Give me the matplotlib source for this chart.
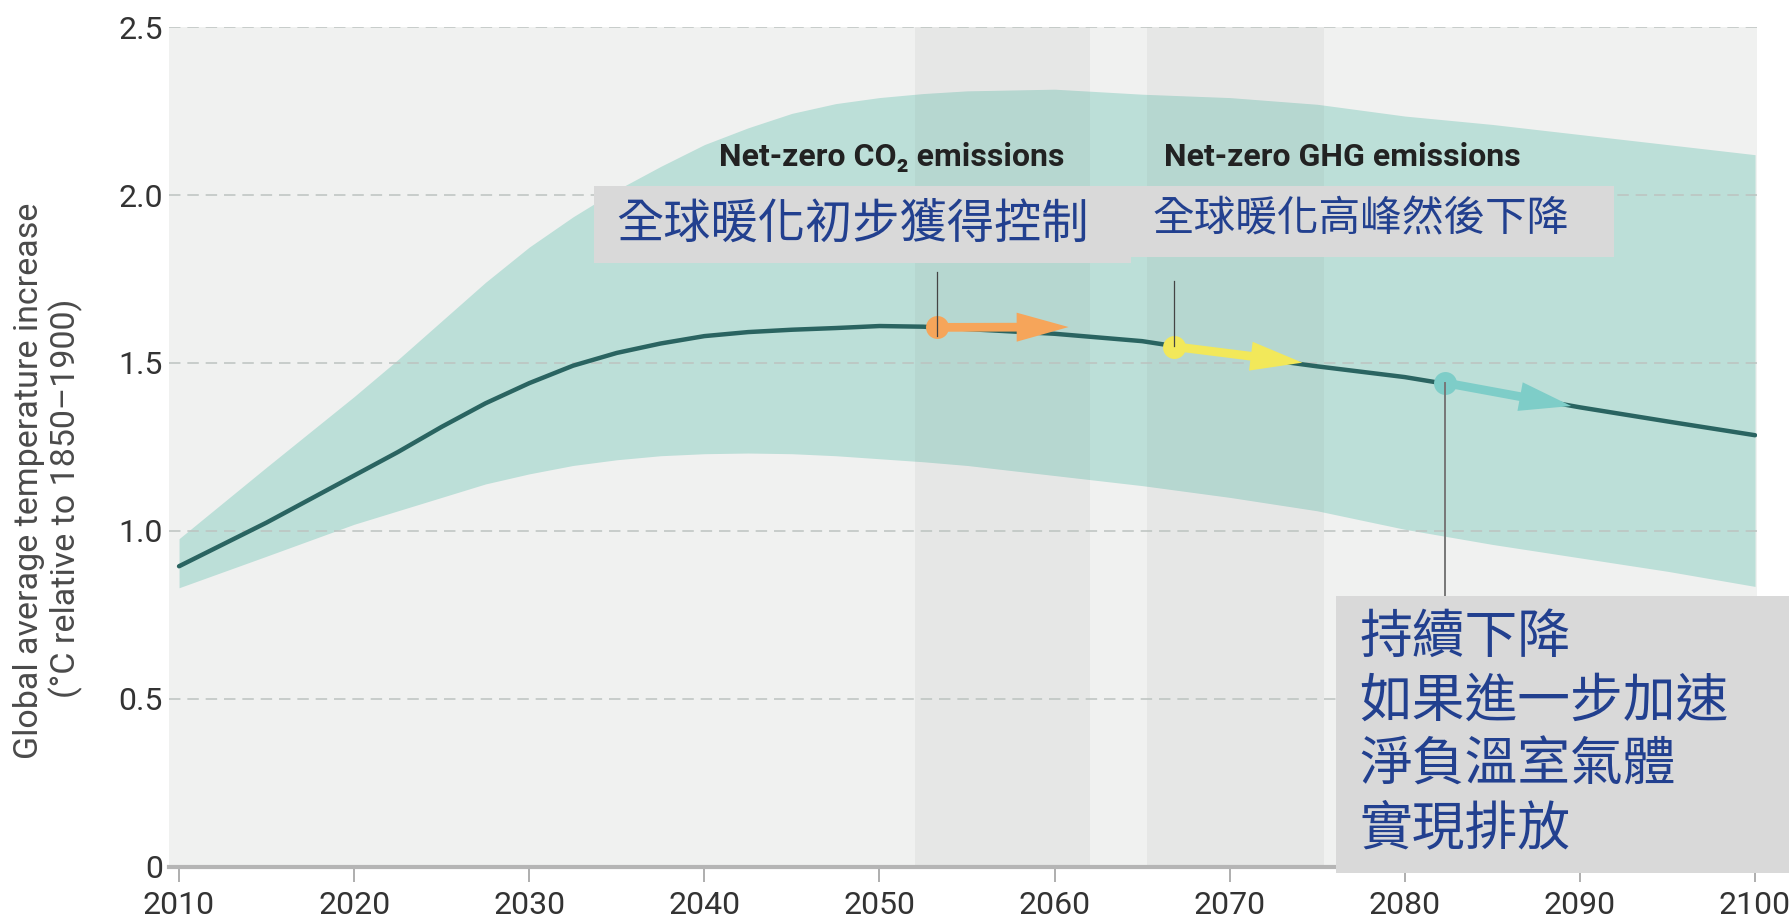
import matplotlib
matplotlib.use("Agg")
import matplotlib.pyplot as plt
from matplotlib.patches import Rectangle, FancyArrowPatch

# ---- data ----
years = [2010, 2015, 2020, 2022.5, 2025, 2027.5, 2030, 2032.5, 2035, 2037.5,
         2040, 2042.5, 2045, 2047.5, 2050, 2052.5, 2055, 2060, 2065, 2070,
         2075, 2080, 2085, 2090, 2095, 2100]
median = [0.895, 1.025, 1.165, 1.235, 1.31, 1.38, 1.44, 1.492, 1.53, 1.558,
          1.58, 1.592, 1.599, 1.604, 1.61, 1.608, 1.601, 1.587, 1.565, 1.525,
          1.49, 1.458, 1.415, 1.368, 1.326, 1.285]
upper = [0.977, 1.19, 1.40, 1.51, 1.625, 1.74, 1.845, 1.935, 2.015, 2.085,
         2.15, 2.2, 2.243, 2.272, 2.29, 2.302, 2.31, 2.315, 2.30, 2.29,
         2.27, 2.235, 2.21, 2.18, 2.15, 2.12]
lower = [0.831, 0.925, 1.02, 1.06, 1.10, 1.14, 1.17, 1.195, 1.212, 1.224,
         1.23, 1.232, 1.23, 1.224, 1.215, 1.206, 1.195, 1.165, 1.135, 1.10,
         1.06, 1.005, 0.96, 0.92, 0.88, 0.835]

band_co2 = (2052.0, 2062.0)
band_ghg = (2065.3, 2075.4)

# (start year, start temp, end year, end temp)
arrow_co2 = (2053.3, 1.606, 2060.8, 1.607)
arrow_ghg = (2066.8, 1.549, 2074.15, 1.501)
arrow_neg = (2082.3, 1.441, 2089.5, 1.372)

xticks = [2010, 2020, 2030, 2040, 2050, 2060, 2070, 2080, 2090, 2100]
yticks = [0, 0.5, 1.0, 1.5, 2.0, 2.5]
ytick_labels = ["0", "0.5", "1.0", "1.5", "2.0", "2.5"]

ylabel_1 = "Global average temperature increase"
ylabel_2 = "(°C relative to 1850–1900)"
label_co2 = "Net-zero CO₂ emissions"
label_ghg = "Net-zero GHG emissions"
box1_text = "全球暖化初步獲得控制"
box2_text = "全球暖化高峰然後下降"
box3_lines = ["持續下降", "如果進一步加速", "淨負溫室氣體", "實現排放"]

LATIN = ["Roboto", "DejaVu Sans"]
CJK = ["Noto Sans CJK TC", "DejaVu Sans"]
BLUE = "#22408f"

fig = plt.figure(figsize=(17.89, 9.22), dpi=100)
ax = fig.add_axes([0.0945, 0.0597, 0.8876, 0.911])
ax.set_facecolor("#f0f1f0")
ax.set_xlim(2009.43, 2100.11)
ax.set_ylim(0, 2.5)

ax.fill_between(years, lower, upper, color="#bcdfd8", lw=0, zorder=1)
for b in (band_co2, band_ghg):
    ax.axvspan(b[0], b[1], color="#707070", alpha=0.07, lw=0, zorder=1.2)

ax.set_axisbelow("line")
ax.grid(axis="y", color="#bcc3c0", lw=1.1, dashes=(7.5, 4.5))
ax.grid(axis="x", visible=False)

ax.plot(years, median, color="#2a6461", lw=3.2, solid_capstyle="round",
        solid_joinstyle="round", zorder=3)

for (x0, y0, x1, y1), col in ((arrow_co2, "#f6a55a"), (arrow_ghg, "#f2e85a"),
                              (arrow_neg, "#7ecdc8")):
    arr = FancyArrowPatch((x0, y0), (x1, y1),
                          arrowstyle="simple,head_length=3.74,head_width=2.09,tail_width=0.63",
                          mutation_scale=10, color=col, lw=0, shrinkA=0, shrinkB=0,
                          zorder=4)
    ax.add_patch(arr)
    ax.plot([x0], [y0], "o", ms=16.5, color=col, mec="none", zorder=5)

# leader lines
ax.plot([arrow_co2[0]] * 2, [1.77, 1.58], color="#444444", lw=0.9, zorder=6)
ax.plot([arrow_ghg[0]] * 2, [1.743, 1.55], color="#444444", lw=0.9, zorder=6)
ax.plot([arrow_neg[0]] * 2, [1.441, 0.80], color="#777777", lw=1.4, zorder=6)

ax.text(2040.84, 2.113, label_co2, family=LATIN, fontweight="bold", fontsize=23,
        color="#222222", va="center", ha="left", zorder=7)
ax.text(2066.25, 2.113, label_ghg, family=LATIN, fontweight="bold", fontsize=23,
        color="#222222", va="center", ha="left", zorder=7)

for s in ("top", "right", "left"):
    ax.spines[s].set_visible(False)
ax.spines["bottom"].set_color("#b5b5b5")
ax.spines["bottom"].set_linewidth(3)

ax.set_xticks(xticks)
ax.set_xticklabels([str(x) for x in xticks], family=LATIN, fontsize=23, color="#333333")
ax.set_yticks(yticks)
ax.set_yticklabels(ytick_labels, family=LATIN, fontsize=23, color="#333333")
ax.tick_params(axis="x", length=10.8, width=1.1, color="#999999", pad=6.5)
ax.tick_params(axis="y", length=0, pad=4.3)

fig.text(29 / 1789, 1 - 481 / 922, ylabel_1, family=LATIN, fontsize=24.5,
         color="#4a4a4a", rotation=90, ha="center", va="center")
fig.text(66 / 1789, 1 - 498 / 922, ylabel_2, family=LATIN, fontsize=24.5,
         color="#4a4a4a", rotation=90, ha="center", va="center")

# grey label boxes (figure pixel coords converted to fractions)
W, H = 1789, 922
def box(x0, y0, x1, y1):
    fig.patches.append(Rectangle((x0 / W, 1 - y1 / H), (x1 - x0) / W, (y1 - y0) / H,
                                 transform=fig.transFigure, facecolor="#d9d9d9",
                                 edgecolor="none", zorder=10))

box(594, 186, 1131, 263)
box(1130, 186, 1614, 257)
box(1336, 596, 1789, 873)

fig.text(616 / W, 1 - 224 / H, box1_text, family=CJK, fontsize=34, color=BLUE,
         ha="left", va="center", zorder=11)
fig.text(1153 / W, 1 - 220 / H, box2_text, family=CJK, fontsize=30, color=BLUE,
         ha="left", va="center", zorder=11)
for i, line in enumerate(box3_lines):
    fig.text(1359 / W, 1 - (637 + 64 * i) / H, line, family=CJK, fontsize=38,
             color=BLUE, ha="left", va="center", zorder=11)

fig.savefig("out.png", dpi=100)
